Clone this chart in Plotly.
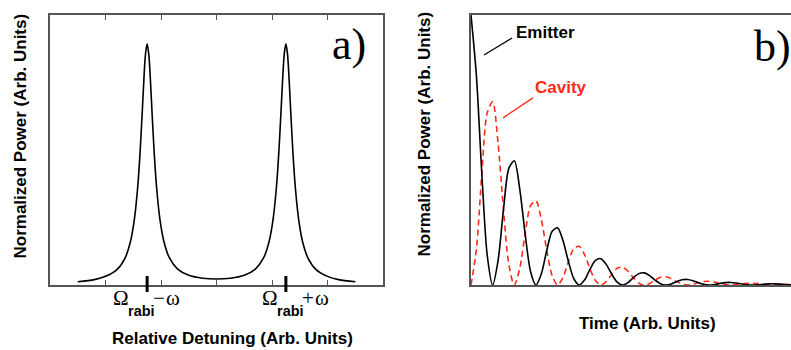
import plotly.graph_objects as go

W, H = 791, 350

# ---- panel a) : emission spectrum (two Lorentzian peaks) ----
detuning = [0.5, 0.8, 1.0, 1.2, 1.35, 1.45, 1.52, 1.58, 1.62, 1.66, 1.69, 1.72,
            1.75,
            1.78, 1.81, 1.84, 1.88, 1.92, 1.98, 2.05, 2.15, 2.3, 2.5, 2.75,
            3.0,
            3.25, 3.5, 3.7, 3.85, 3.95, 4.02, 4.08, 4.12, 4.16, 4.19, 4.22,
            4.25,
            4.28, 4.31, 4.34, 4.38, 4.42, 4.48, 4.55, 4.65, 4.8, 5.0, 5.2, 5.5]
power = [0.012, 0.020, 0.032, 0.056, 0.099, 0.161, 0.243, 0.362, 0.480, 0.632, 0.755, 0.854,
         0.893,
         0.854, 0.755, 0.633, 0.481, 0.363, 0.244, 0.163, 0.101, 0.059, 0.036, 0.025,
         0.022,
         0.025, 0.036, 0.059, 0.101, 0.163, 0.244, 0.363, 0.481, 0.633, 0.755, 0.854,
         0.893,
         0.854, 0.755, 0.632, 0.480, 0.362, 0.243, 0.161, 0.099, 0.056, 0.032, 0.020, 0.012]
minor_ticks = [1, 2, 3, 4, 5]
peak_positions = [1.75, 4.25]
peak_signs = ["\u2212", "+"]

# ---- panel b) : time-domain Rabi oscillation ----
time = [0.0, 0.125, 0.25, 0.375, 0.5, 0.625, 0.75, 0.875,
        1.0, 1.125, 1.25, 1.375, 1.5, 1.625, 1.75, 1.875,
        2.0, 2.125, 2.25, 2.375, 2.5, 2.625, 2.75, 2.875,
        3.0, 3.125, 3.25, 3.375, 3.5, 3.625, 3.75, 3.875,
        4.0, 4.125, 4.25, 4.375, 4.5, 4.625, 4.75, 4.875,
        5.0, 5.125, 5.25, 5.375, 5.5, 5.625, 5.75, 5.875,
        6.0, 6.125, 6.25, 6.375, 6.5, 6.625, 6.75, 6.875,
        7.0, 7.125, 7.25, 7.375, 7.5]
emitter = [1.0, 0.7746, 0.4118, 0.1094, 0.0, 0.0901, 0.2793, 0.4327,
           0.46, 0.3564, 0.1895, 0.0503, 0.0, 0.0415, 0.1285, 0.1991,
           0.2116, 0.1639, 0.0871, 0.0232, 0.0, 0.0191, 0.0591, 0.0916,
           0.0973, 0.0754, 0.0401, 0.0107, 0.0, 0.0088, 0.0272, 0.0421,
           0.0448, 0.0347, 0.0184, 0.0049, 0.0, 0.0040, 0.0125, 0.0194,
           0.0206, 0.0160, 0.0085, 0.0023, 0.0, 0.0019, 0.0058, 0.0089,
           0.0095, 0.0073, 0.0039, 0.0010, 0.0, 0.0009, 0.0026, 0.0041,
           0.0044, 0.0034, 0.0018, 0.0005, 0.0]
cavity = [0.0, 0.1329, 0.4118, 0.6380, 0.6783, 0.5254, 0.2793, 0.0742,
          0.0, 0.0611, 0.1895, 0.2935, 0.3120, 0.2417, 0.1285, 0.0341,
          0.0, 0.0281, 0.0871, 0.1350, 0.1435, 0.1112, 0.0591, 0.0157,
          0.0, 0.0129, 0.0401, 0.0621, 0.0660, 0.0511, 0.0272, 0.0072,
          0.0, 0.0059, 0.0184, 0.0286, 0.0304, 0.0235, 0.0125, 0.0033,
          0.0, 0.0027, 0.0085, 0.0131, 0.0140, 0.0108, 0.0058, 0.0015,
          0.0, 0.0013, 0.0039, 0.0060, 0.0064, 0.0050, 0.0026, 0.0007,
          0.0, 0.0006, 0.0018, 0.0028, 0.0030]

RED = "#ff2a1a"
FRAME = "#555555"
SANS = "Liberation Sans, Arial, sans-serif"
SERIF = "Liberation Serif, Times New Roman, serif"


def px(x):
    return x / W


def py(y):
    return 1 - y / H


fig = go.Figure()
fig.add_trace(go.Scatter(x=detuning, y=power, mode="lines",
                         line=dict(color="black", width=1.6, shape="spline", smoothing=0.8),
                         xaxis="x", yaxis="y", hoverinfo="skip"))
fig.add_trace(go.Scatter(x=time, y=cavity, mode="lines",
                         line=dict(color=RED, width=1.6, dash="6px,4px", shape="spline", smoothing=0.8),
                         xaxis="x2", yaxis="y2", hoverinfo="skip"))
fig.add_trace(go.Scatter(x=time, y=emitter, mode="lines",
                         line=dict(color="black", width=1.6, shape="spline", smoothing=0.8),
                         xaxis="x2", yaxis="y2", hoverinfo="skip"))

ydom = [py(285), py(15)]
common = dict(showgrid=False, zeroline=False, showline=True, linecolor=FRAME, linewidth=1.5)

fig.update_layout(
    width=W, height=H, margin=dict(l=0, r=0, t=0, b=0),
    paper_bgcolor="white", plot_bgcolor="white", showlegend=False,
    xaxis=dict(domain=[px(50), px(383)], range=[0, 6], mirror="ticks",
               ticks="inside", tickvals=minor_ticks, ticklen=5, tickwidth=1,
               tickcolor=FRAME, showticklabels=False, anchor="y", **common),
    yaxis=dict(domain=ydom, range=[0, 1], mirror=True, ticks="",
               showticklabels=False, anchor="x", **common),
    xaxis2=dict(domain=[px(471), 1.0], range=[0, 7.39], mirror=True, ticks="",
                showticklabels=False, anchor="y2", **common),
    yaxis2=dict(domain=ydom, range=[0, 1], mirror=False, ticks="",
                showticklabels=False, anchor="x2", **common),
)

shapes = []
annotations = []


def label(x, y, text, font, xref="paper", yref="paper", **kw):
    d = dict(x=x, y=y, xref=xref, yref=yref, text=text, showarrow=False,
             xanchor="center", yanchor="middle", font=font)
    d.update(kw)
    return d


# thick markers at the two Rabi-split peaks, with their labels
serif_font = dict(family=SERIF, size=21, color="black")
rabi_font = dict(family=SANS, size=14.5, color="black")
label_offsets = [(-26, -6, 12, 26), (-16, 5, 22, 36)]
for pos, sign, offs in zip(peak_positions, peak_signs, label_offsets):
    shapes.append(dict(type="line", xref="x", yref="paper", x0=pos, x1=pos,
                       y0=py(276), y1=py(292), line=dict(color="black", width=3)))
    o_om, o_rabi, o_sign, o_w = offs
    annotations += [
        label(pos, py(298), "\u03a9", serif_font, xref="x", xshift=o_om),
        label(pos, py(311), "<b>rabi</b>", rabi_font, xref="x", xshift=o_rabi),
        label(pos, py(298), sign, serif_font, xref="x", xshift=o_sign),
        label(pos, py(298), "\u03c9", serif_font, xref="x", xshift=o_w),
    ]

# panel letters
letter_font = dict(family=SERIF, size=44, color="black")
annotations += [
    label(px(349), py(45), "a)", letter_font),
    label(px(772), py(46), "b)", letter_font),
]

# axis titles
title_font = dict(family=SANS, size=17, color="black")
annotations += [
    label(px(19.5), py(136), "<b>Normalized Power (Arb. Units)</b>", title_font, textangle=-90),
    label(px(424.5), py(134), "<b>Normalized Power (Arb. Units)</b>", title_font, textangle=-90),
    label(px(232), py(338.5), "<b>Relative Detuning (Arb. Units)</b>", title_font),
    label(px(647), py(323.5), "<b>Time (Arb. Units)</b>", title_font),
]

# series labels with pointer strokes in panel b
annotations += [
    label(1.71, 0.937, "<b>Emitter</b>", dict(family=SANS, size=17, color="black"),
          xref="x2", yref="y2"),
    label(2.08, 0.733, "<b>Cavity</b>", dict(family=SANS, size=17, color=RED),
          xref="x2", yref="y2"),
]
shapes += [
    dict(type="line", xref="x2", yref="y2", x0=0.30, y0=0.852, x1=0.95, y1=0.915,
         line=dict(color="black", width=1.3)),
    dict(type="line", xref="x2", yref="y2", x0=0.74, y0=0.619, x1=1.43, y1=0.693,
         line=dict(color=RED, width=1.3)),
]

fig.update_layout(shapes=shapes, annotations=annotations)
fig.write_html("out.html")
